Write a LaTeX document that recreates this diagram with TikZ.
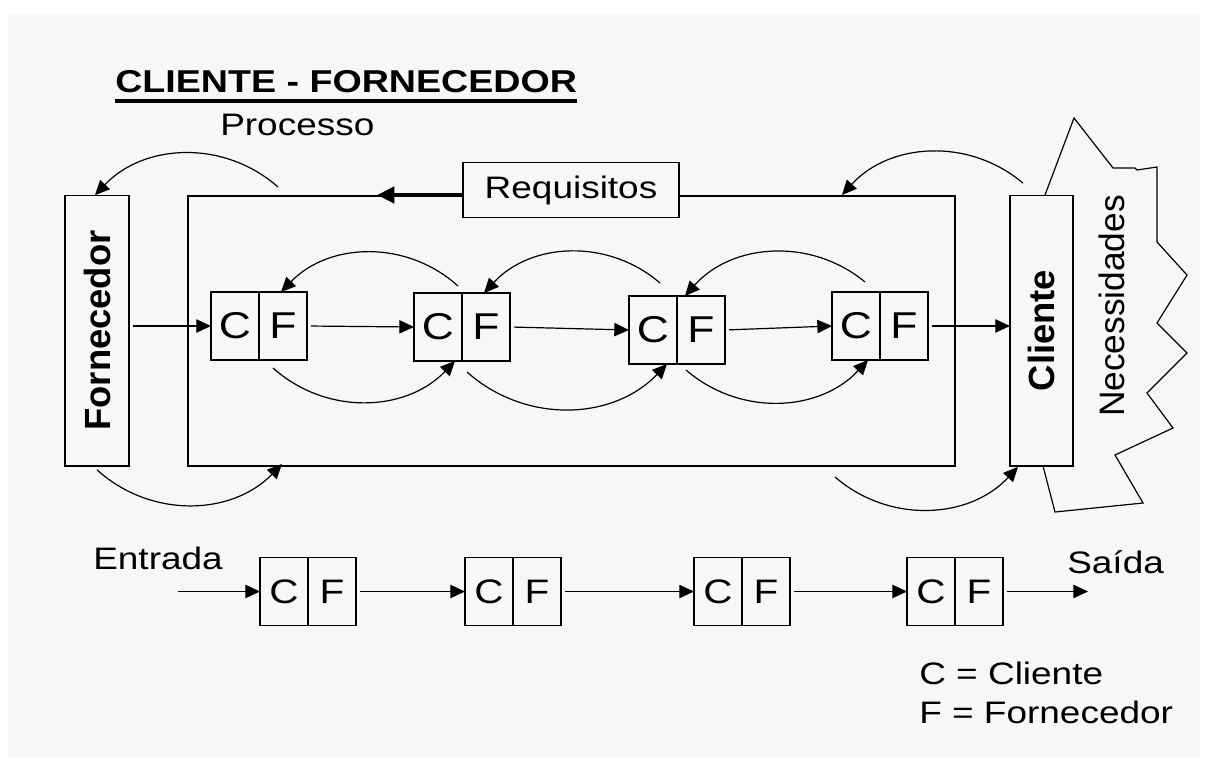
\documentclass[tikz,border=0pt]{standalone}
\usepackage{fontspec}
\setmainfont{Liberation Sans}[FakeStretch=1.19]
\newfontfamily\plainsans{Liberation Sans}
\usetikzlibrary{arrows.meta, positioning, calc}
\definecolor{paper}{HTML}{F7F7F7}
\tikzset{
  cf/.style={rectangle, draw=black, line width=1pt, fill=paper, outer sep=0pt,
             inner sep=0pt, minimum width=36pt, minimum height=51pt,
             font=\fontsize{#1}{#1}\selectfont},
  cf/.default=28,
  sidebox/.style={rectangle, draw=black, line width=1pt, fill=paper, outer sep=0pt,
                  inner sep=0pt, minimum width=48pt, minimum height=203pt,
                  font=\plainsans\bfseries\fontsize{27.3}{30}\selectfont},
  lbl/.style={inner sep=0pt, anchor=base west, font=\fontsize{23.3}{28}\selectfont},
  arr/.style={-{Triangle[length=11pt, width=10pt]}, line width=0.9pt, shorten <=3pt},
  swing/.style={-{Triangle[length=11pt, width=10pt]}, line width=0.9pt, bend right=44},
}

\begin{document}
\begin{tikzpicture}[x=0.75pt, y=-0.75pt]
  \useasboundingbox (0,0) rectangle (1205,763);
  \fill[white] (0,0) rectangle (1205,763);
  \fill[paper] (8,14) rectangle (1200,757);

  % TITLE
  \node[lbl, font=\bfseries\fontsize{23.7}{28}\selectfont] (title) at (115,93) {CLIENTE - FORNECEDOR};
  \draw[line width=2.3pt] ($(title.base west)+(0,8)$) -- ($(title.base east)+(0,8)$);
  \node[lbl] (proc_lbl) at (220,136) {Processo};

  % PROCESS FRAME
  \node[draw, line width=1pt, minimum width=575.25pt, minimum height=202.5pt,
        outer sep=0pt] (proc) at (571.5,331) {};
  \node[sidebox] (forn) at (97,330.5) {\rotatebox{90}{Fornecedor}};

  % needs around the customer
  \draw[line width=0.9pt] (1045,195) -- (1074,118) -- (1113,168) -- (1135,168) -- (1137,170)
    -- (1157,167) -- (1157,242) -- (1187,275) -- (1157,323) -- (1187,353) -- (1147,393)
    -- (1173,428) -- (1115,455) -- (1143,503) -- (1055,512) -- (1043,466);
  \node[sidebox, minimum width=47.25pt] (cli) at (1041.5,330.5) {\rotatebox{90}{Cliente}};
  \node[inner sep=0pt, font=\plainsans\fontsize{26.5}{30}\selectfont] (need) at (1112,306)
    {\rotatebox{90}{Necessidades}};

  \node[draw, line width=1pt, fill=paper, minimum width=162pt, minimum height=41pt,
        inner sep=0pt, font=\fontsize{23.3}{28}\selectfont] (req) at (571,190) {Requisitos};
  \coordinate (req_tip) at (377,195);
  \draw[line width=3.2pt, -{Triangle[length=13pt, width=12pt]}] (req.west |- req_tip) -- (req_tip);

  % INTERNAL CHAIN
  \node[cf] (top_c1) at (235,326) {C};
  \node[cf, right=0pt of top_c1] (top_f1) {F};
  \node[cf] (top_c2) at (438,327) {C};
  \node[cf, right=0pt of top_c2] (top_f2) {F};
  \node[cf] (top_c3) at (653,330) {C};
  \node[cf, right=0pt of top_c3] (top_f3) {F};
  \node[cf] (top_c4) at (856,326) {C};
  \node[cf, right=0pt of top_c4] (top_f4) {F};

  \draw[arr] (top_c1.west -| forn.east) -- (top_c1.west);
  \draw[arr] (top_f1.east) -- (top_c2.west);
  \draw[arr] (top_f2.east) -- (top_c3.west);
  \draw[arr] (top_f3.east) -- (top_c4.west);
  \draw[arr] (top_f4.east) -- (top_f4.east -| cli.west);

  % requirements flow back, products flow forward
  \draw[swing] ($(top_c2.north east)+(-4,-7)$) to ($(top_f1.north)+(-2,0)$);
  \draw[swing] ($(top_c3.north east)+(-17,-13)$) to ($(top_f2.north)+(-2,0)$);
  \draw[swing] ($(top_c4.north east)+(-15,-10)$) to ($(top_f3.north)+(-16,0)$);
  \draw[swing] ($(top_f1.south)+(-10,8)$) to ($(top_c2.south east)+(-7,0)$);
  \draw[swing] ($(top_f2.south)+(-19,11)$) to ($(top_c3.south east)+(-10,0)$);
  \draw[swing] ($(top_f3.south)+(-15,6)$) to ($(top_c4.south east)+(-12,0)$);

  \draw[swing] ($(proc.north west)+(90,-9)$) to ($(forn.north)+(-2,0)$);
  \draw[swing] ($(forn.south)+(0,4)$) to ($(proc.south west)+(94,-2)$);
  \draw[swing] ($(cli.north west)+(13,-12)$) to ($(proc.north east)+(-113,-1)$);
  \draw[swing] ($(proc.south east)+(-120,11)$) to ($(cli.south west)+(8,1)$);

  % LINEAR CHAIN
  \node[lbl] (entry_lbl) at (93,569) {Entrada};
  \node[lbl] (exit_lbl) at (1067,573) {Saída};
  \node[cf=25.5] (bot_c1) at (284,591.5) {C};
  \node[cf=25.5, right=0pt of bot_c1] (bot_f1) {F};
  \node[cf=25.5] (bot_c2) at (489,591.5) {C};
  \node[cf=25.5, right=0pt of bot_c2] (bot_f2) {F};
  \node[cf=25.5] (bot_c3) at (718,591.5) {C};
  \node[cf=25.5, right=0pt of bot_c3] (bot_f3) {F};
  \node[cf=25.5] (bot_c4) at (931,591.5) {C};
  \node[cf=25.5, right=0pt of bot_c4] (bot_f4) {F};
  \coordinate (entry) at (174,591.5);
  \coordinate (exit) at (1088,591.5);

  \draw[arr] (entry) -- (bot_c1.west);
  \draw[arr] (bot_f1.east) -- (bot_c2.west);
  \draw[arr] (bot_f2.east) -- (bot_c3.west);
  \draw[arr] (bot_f3.east) -- (bot_c4.west);
  \draw[arr] (bot_f4.east) -- (exit);

  % legend
  \node[lbl] (key_c) at (919,684) {C = Cliente};
  \node[lbl] (key_f) at (919,723) {F = Fornecedor};
\end{tikzpicture}
\end{document}
